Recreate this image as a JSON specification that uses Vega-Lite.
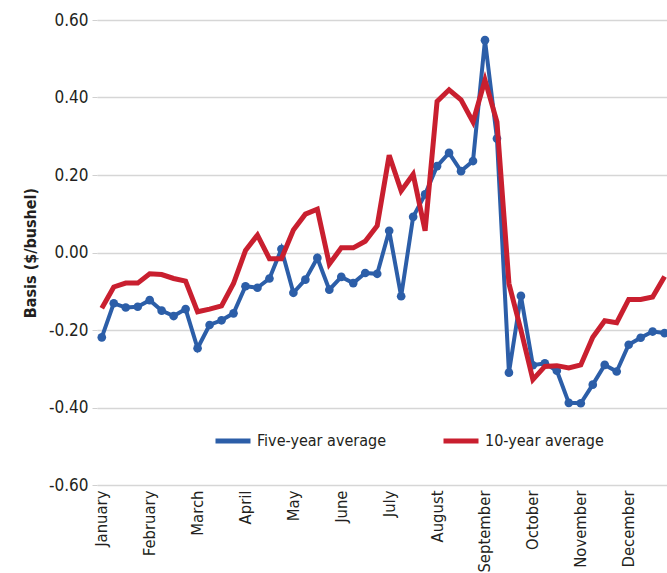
{
  "$schema": "https://vega.github.io/schema/vega-lite/v6.json",
  "autosize": "none",
  "width": 570,
  "height": 465,
  "padding": {"left": 97, "top": 20, "right": 0, "bottom": 88},
  "background": "white",
  "config": {
    "view": {"stroke": null},
    "font": "DejaVu Sans Condensed, Roboto, sans-serif"
  },
  "data": {
    "values": [
      {"week": 0, "series": "Five-year average", "basis": -0.219},
      {"week": 1, "series": "Five-year average", "basis": -0.131},
      {"week": 2, "series": "Five-year average", "basis": -0.142},
      {"week": 3, "series": "Five-year average", "basis": -0.140},
      {"week": 4, "series": "Five-year average", "basis": -0.123},
      {"week": 5, "series": "Five-year average", "basis": -0.150},
      {"week": 6, "series": "Five-year average", "basis": -0.164},
      {"week": 7, "series": "Five-year average", "basis": -0.146},
      {"week": 8, "series": "Five-year average", "basis": -0.247},
      {"week": 9, "series": "Five-year average", "basis": -0.187},
      {"week": 10, "series": "Five-year average", "basis": -0.175},
      {"week": 11, "series": "Five-year average", "basis": -0.157},
      {"week": 12, "series": "Five-year average", "basis": -0.087},
      {"week": 13, "series": "Five-year average", "basis": -0.091},
      {"week": 14, "series": "Five-year average", "basis": -0.067},
      {"week": 15, "series": "Five-year average", "basis": 0.009},
      {"week": 16, "series": "Five-year average", "basis": -0.104},
      {"week": 17, "series": "Five-year average", "basis": -0.070},
      {"week": 18, "series": "Five-year average", "basis": -0.014},
      {"week": 19, "series": "Five-year average", "basis": -0.096},
      {"week": 20, "series": "Five-year average", "basis": -0.063},
      {"week": 21, "series": "Five-year average", "basis": -0.079},
      {"week": 22, "series": "Five-year average", "basis": -0.053},
      {"week": 23, "series": "Five-year average", "basis": -0.055},
      {"week": 24, "series": "Five-year average", "basis": 0.056},
      {"week": 25, "series": "Five-year average", "basis": -0.113},
      {"week": 26, "series": "Five-year average", "basis": 0.092},
      {"week": 27, "series": "Five-year average", "basis": 0.150},
      {"week": 28, "series": "Five-year average", "basis": 0.223},
      {"week": 29, "series": "Five-year average", "basis": 0.257},
      {"week": 30, "series": "Five-year average", "basis": 0.210},
      {"week": 31, "series": "Five-year average", "basis": 0.236},
      {"week": 32, "series": "Five-year average", "basis": 0.548},
      {"week": 33, "series": "Five-year average", "basis": 0.294},
      {"week": 34, "series": "Five-year average", "basis": -0.310},
      {"week": 35, "series": "Five-year average", "basis": -0.112},
      {"week": 36, "series": "Five-year average", "basis": -0.291},
      {"week": 37, "series": "Five-year average", "basis": -0.286},
      {"week": 38, "series": "Five-year average", "basis": -0.305},
      {"week": 39, "series": "Five-year average", "basis": -0.388},
      {"week": 40, "series": "Five-year average", "basis": -0.389},
      {"week": 41, "series": "Five-year average", "basis": -0.341},
      {"week": 42, "series": "Five-year average", "basis": -0.290},
      {"week": 43, "series": "Five-year average", "basis": -0.307},
      {"week": 44, "series": "Five-year average", "basis": -0.238},
      {"week": 45, "series": "Five-year average", "basis": -0.220},
      {"week": 46, "series": "Five-year average", "basis": -0.204},
      {"week": 47, "series": "Five-year average", "basis": -0.208},
      {"week": 0, "series": "10-year average", "basis": -0.144},
      {"week": 1, "series": "10-year average", "basis": -0.089},
      {"week": 2, "series": "10-year average", "basis": -0.079},
      {"week": 3, "series": "10-year average", "basis": -0.079},
      {"week": 4, "series": "10-year average", "basis": -0.055},
      {"week": 5, "series": "10-year average", "basis": -0.057},
      {"week": 6, "series": "10-year average", "basis": -0.067},
      {"week": 7, "series": "10-year average", "basis": -0.074},
      {"week": 8, "series": "10-year average", "basis": -0.153},
      {"week": 9, "series": "10-year average", "basis": -0.146},
      {"week": 10, "series": "10-year average", "basis": -0.138},
      {"week": 11, "series": "10-year average", "basis": -0.080},
      {"week": 12, "series": "10-year average", "basis": 0.005},
      {"week": 13, "series": "10-year average", "basis": 0.045},
      {"week": 14, "series": "10-year average", "basis": -0.016},
      {"week": 15, "series": "10-year average", "basis": -0.016},
      {"week": 16, "series": "10-year average", "basis": 0.058},
      {"week": 17, "series": "10-year average", "basis": 0.099},
      {"week": 18, "series": "10-year average", "basis": 0.112},
      {"week": 19, "series": "10-year average", "basis": -0.030},
      {"week": 20, "series": "10-year average", "basis": 0.012},
      {"week": 21, "series": "10-year average", "basis": 0.012},
      {"week": 22, "series": "10-year average", "basis": 0.029},
      {"week": 23, "series": "10-year average", "basis": 0.069},
      {"week": 24, "series": "10-year average", "basis": 0.251},
      {"week": 25, "series": "10-year average", "basis": 0.159},
      {"week": 26, "series": "10-year average", "basis": 0.202},
      {"week": 27, "series": "10-year average", "basis": 0.056},
      {"week": 28, "series": "10-year average", "basis": 0.390},
      {"week": 29, "series": "10-year average", "basis": 0.420},
      {"week": 30, "series": "10-year average", "basis": 0.394},
      {"week": 31, "series": "10-year average", "basis": 0.337},
      {"week": 32, "series": "10-year average", "basis": 0.445},
      {"week": 33, "series": "10-year average", "basis": 0.337},
      {"week": 34, "series": "10-year average", "basis": -0.080},
      {"week": 35, "series": "10-year average", "basis": -0.200},
      {"week": 36, "series": "10-year average", "basis": -0.328},
      {"week": 37, "series": "10-year average", "basis": -0.294},
      {"week": 38, "series": "10-year average", "basis": -0.292},
      {"week": 39, "series": "10-year average", "basis": -0.298},
      {"week": 40, "series": "10-year average", "basis": -0.290},
      {"week": 41, "series": "10-year average", "basis": -0.219},
      {"week": 42, "series": "10-year average", "basis": -0.176},
      {"week": 43, "series": "10-year average", "basis": -0.181},
      {"week": 44, "series": "10-year average", "basis": -0.121},
      {"week": 45, "series": "10-year average", "basis": -0.121},
      {"week": 46, "series": "10-year average", "basis": -0.115},
      {"week": 47, "series": "10-year average", "basis": -0.062}
    ]
  },
  "encoding": {
    "x": {
      "field": "week",
      "type": "quantitative",
      "scale": {"domain": [-0.4, 47.2], "nice": false, "zero": false},
      "axis": {
        "title": null,
        "values": [0, 4, 8, 12, 16, 20, 24, 28, 32, 36, 40, 44],
        "labelExpr": "['January','February','March','April','May','June','July','August','September','October','November','December'][round(datum.value/4)]",
        "labelAngle": -90,
        "labelFont": "DejaVu Sans Condensed, Roboto, sans-serif",
        "labelFontSize": 16.5,
        "labelColor": "#231f20",
        "labelPadding": 5,
        "ticks": false,
        "domain": false,
        "grid": false
      }
    },
    "y": {
      "field": "basis",
      "type": "quantitative",
      "scale": {"domain": [-0.6, 0.6], "nice": false},
      "axis": {
        "title": "Basis ($/bushel)",
        "titleFont": "DejaVu Sans Condensed, Roboto, sans-serif",
        "titleFontSize": 16,
        "titleFontWeight": "bold",
        "titleColor": "#231f20",
        "titlePadding": 10,
        "values": [-0.6, -0.4, -0.2, 0, 0.2, 0.4, 0.6],
        "labelExpr": "replace(format(datum.value, '.2f'), '\u2212', '-')",
        "labelFont": "DejaVu Sans Condensed, Roboto, sans-serif",
        "labelFontSize": 17,
        "labelColor": "#231f20",
        "labelPadding": 4,
        "tickSize": 5,
        "tickColor": "#d0d0d0",
        "domain": false,
        "grid": true,
        "gridColor": "#d6d6d6",
        "gridWidth": 1.5
      }
    },
    "color": {
      "field": "series",
      "type": "nominal",
      "scale": {
        "domain": ["Five-year average", "10-year average"],
        "range": ["#2c5ea8", "#c91f2f"]
      },
      "legend": {
        "title": null,
        "orient": "none",
        "legendX": 116,
        "legendY": 401,
        "direction": "horizontal",
        "symbolType": "stroke",
        "symbolSize": 1225,
        "symbolStrokeWidth": 5,
        "labelFont": "DejaVu Sans Condensed, Roboto, sans-serif",
        "labelFontSize": 16,
        "labelColor": "#231f20",
        "labelOffset": 4,
        "columnPadding": 46
      }
    }
  },
  "layer": [
    {
      "transform": [{"filter": "datum.series === 'Five-year average'"}],
      "mark": {"type": "line", "strokeWidth": 4}
    },
    {
      "transform": [{"filter": "datum.series === 'Five-year average'"}],
      "mark": {"type": "point", "filled": true, "size": 75, "opacity": 1}
    },
    {
      "transform": [{"filter": "datum.series === '10-year average'"}],
      "mark": {"type": "line", "strokeWidth": 5}
    }
  ]
}
